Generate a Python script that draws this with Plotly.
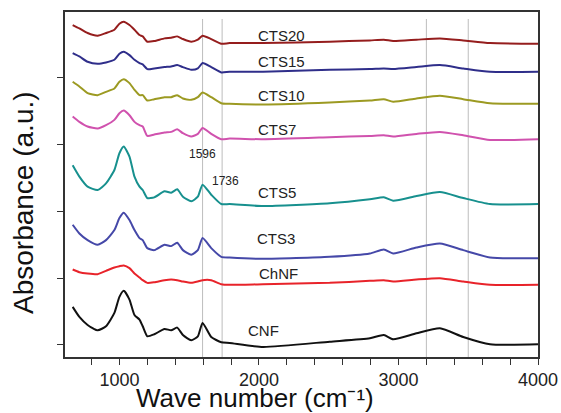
import plotly.graph_objects as go

# Wavenumber keypoints (cm^-1)
wavenumber = [665, 713, 772, 844, 904, 964, 1000, 1031, 1072, 1108, 1144, 1167, 1200, 1250,
              1323, 1371, 1414, 1455, 1515, 1562, 1596, 1658, 1730, 1790, 2029, 2507, 2795,
              2895, 2962, 3129, 3297, 3464, 3656, 4000]

# Stacked absorbance values (a.u.)
cnf = [0.57, 0.42, 0.30, 0.22, 0.28, 0.48, 0.72, 0.81, 0.68, 0.45, 0.38, 0.28, 0.13, 0.16,
       0.24, 0.22, 0.26, 0.15, 0.07, 0.13, 0.33, 0.12, 0.04, 0.03, -0.03, 0.05, 0.10,
       0.15, 0.085, 0.175, 0.25, 0.12, 0.01, 0.01]
chnf = [1.13, 1.09, 1.07, 1.06, 1.11, 1.16, 1.18, 1.19, 1.15, 1.07, 1.01, 0.97, 0.93, 0.94,
        0.97, 0.98, 0.97, 0.95, 0.93, 0.95, 0.97, 0.97, 0.91, 0.90, 0.91, 0.93, 0.96,
        0.97, 0.95, 0.98, 1.00, 0.95, 0.90, 0.90]
cts3 = [1.80, 1.67, 1.57, 1.50, 1.57, 1.72, 1.90, 1.98, 1.87, 1.72, 1.60, 1.57, 1.45, 1.42,
        1.50, 1.48, 1.53, 1.42, 1.35, 1.42, 1.60, 1.45, 1.32, 1.31, 1.29, 1.32, 1.37,
        1.43, 1.37, 1.46, 1.52, 1.42, 1.31, 1.30]
cts5 = [2.69, 2.52, 2.37, 2.32, 2.42, 2.62, 2.87, 2.97, 2.82, 2.52, 2.37, 2.32, 2.20, 2.21,
        2.30, 2.28, 2.33, 2.22, 2.15, 2.22, 2.40, 2.25, 2.11, 2.11, 2.08, 2.12, 2.18,
        2.21, 2.16, 2.23, 2.29, 2.20, 2.11, 2.11]
cts7 = [3.42, 3.34, 3.27, 3.24, 3.29, 3.37, 3.47, 3.51, 3.44, 3.34, 3.29, 3.27, 3.13, 3.15,
        3.18, 3.19, 3.23, 3.17, 3.12, 3.16, 3.25, 3.16, 3.08, 3.09, 3.08, 3.11, 3.13,
        3.14, 3.12, 3.16, 3.19, 3.14, 3.07, 3.08]
cts10 = [3.94, 3.87, 3.77, 3.74, 3.79, 3.84, 3.94, 3.98, 3.92, 3.82, 3.74, 3.74, 3.66, 3.68,
         3.71, 3.71, 3.74, 3.69, 3.67, 3.71, 3.78, 3.71, 3.62, 3.61, 3.60, 3.63, 3.66,
         3.68, 3.64, 3.69, 3.73, 3.68, 3.62, 3.61]
cts15 = [4.37, 4.32, 4.24, 4.21, 4.23, 4.27, 4.36, 4.39, 4.34, 4.27, 4.22, 4.20, 4.13, 4.14,
         4.16, 4.17, 4.19, 4.16, 4.12, 4.14, 4.22, 4.16, 4.08, 4.09, 4.09, 4.12, 4.13,
         4.14, 4.13, 4.16, 4.19, 4.14, 4.09, 4.09]
cts20 = [4.79, 4.74, 4.67, 4.63, 4.67, 4.72, 4.81, 4.84, 4.79, 4.72, 4.64, 4.62, 4.54, 4.55,
         4.59, 4.60, 4.62, 4.58, 4.54, 4.57, 4.63, 4.58, 4.51, 4.52, 4.52, 4.54, 4.56,
         4.57, 4.55, 4.57, 4.59, 4.56, 4.52, 4.51]

series_names = ["CNF", "ChNF", "CTS3", "CTS5", "CTS7", "CTS10", "CTS15", "CTS20"]
series_values = [cnf, chnf, cts3, cts5, cts7, cts10, cts15, cts20]
series_colors = ["#111111", "#E8232A", "#4548A8", "#17908E", "#D052AE", "#9C9A22", "#2F2E8A", "#951D1D"]
# label anchor (wavenumber, absorbance) for each series name
label_x = [1910, 1985, 1970, 1981, 1981, 1981, 1981, 1981]
label_y = [0.21, 1.07, 1.59, 2.29, 3.22, 3.73, 4.24, 4.64]

marker_lines = [1596, 1736, 3200, 3500]
peak_labels = ["1596", "1736"]
peak_label_x = [1596, 1760]
peak_label_y = [2.86, 2.46]

FONT = "Arial, Liberation Sans, sans-serif"

fig = go.Figure()

for xv in marker_lines:
    fig.add_shape(type="line", xref="x", yref="y", x0=xv, x1=xv, y0=-0.18, y1=4.88,
                  line=dict(color="#BDBDBD", width=1), layer="below")

for name, vals, col in zip(series_names, series_values, series_colors):
    fig.add_trace(go.Scatter(x=wavenumber, y=vals, mode="lines", name=name,
                             line=dict(color=col, width=2, shape="spline", smoothing=0.55),
                             showlegend=False))

for name, lx, ly in zip(series_names, label_x, label_y):
    fig.add_annotation(x=lx, y=ly, text=name, showarrow=False, xanchor="left", yanchor="middle",
                       font=dict(family=FONT, size=15, color="#222222"))

for t, lx, ly in zip(peak_labels, peak_label_x, peak_label_y):
    fig.add_annotation(x=lx, y=ly, text=t, showarrow=False, xanchor="center", yanchor="middle",
                       font=dict(family=FONT, size=12, color="#222222"))

# axis titles placed as paper annotations (offset as in the reference)
fig.add_annotation(xref="paper", yref="paper", x=(255 - 65) / 473, y=-(415 - 357) / 345,
                   text="Wave number (cm\u207b\u00b9)", showarrow=False,
                   xanchor="center", yanchor="bottom",
                   font=dict(family=FONT, size=26, color="#111111"))
fig.add_annotation(xref="paper", yref="paper", x=-(65 - 23) / 473, y=(357 - 203) / 345,
                   text="Absorbance (a.u.)", showarrow=False, textangle=-90,
                   xanchor="center", yanchor="middle",
                   font=dict(family=FONT, size=28, color="#111111"))

fig.update_layout(
    width=561, height=413,
    margin=dict(l=65, r=23, t=12, b=56, autoexpand=False),
    plot_bgcolor="white", paper_bgcolor="white",
    font=dict(family=FONT, color="#222222"),
)
fig.update_xaxes(range=[610, 4000], tickvals=[1000, 2000, 3000, 4000],
                 ticks="outside", ticklen=6, tickwidth=1.2, tickcolor="#333333",
                 minor=dict(dtick=200, tick0=0, ticks="outside", ticklen=6, tickwidth=1, tickcolor="#333333"),
                 showline=True, linecolor="#333333", linewidth=1.5, mirror=True,
                 showgrid=False, zeroline=False, automargin=False,
                 tickfont=dict(size=18, color="#222222"))
fig.update_yaxes(range=[-0.18, 4.985], tickvals=[0, 1, 2, 3, 4], showticklabels=False,
                 ticks="outside", ticklen=6, tickwidth=1.2, tickcolor="#333333",
                 showline=True, linecolor="#333333", linewidth=1.5, mirror=True,
                 showgrid=False, zeroline=False, automargin=False)

fig.write_html("out.html")
